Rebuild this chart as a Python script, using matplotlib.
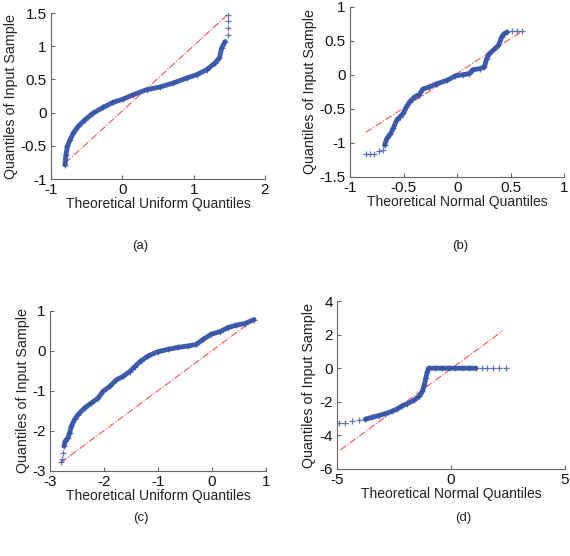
import matplotlib
matplotlib.use("Agg")
import matplotlib.pyplot as plt
from matplotlib.ticker import FormatStrFormatter
import numpy as np

plt.rcParams["font.family"] = ["Liberation Sans", "DejaVu Sans"]
plt.rcParams["axes.unicode_minus"] = False

# (a) uniform q-q plot
a_x = [-0.804, -0.79, -0.77, -0.734, -0.687, -0.617, -0.523, -0.407, -0.267, -0.127,
       0.013, 0.154, 0.34, 0.528, 0.715, 0.902, 1.042, 1.183, 1.30, 1.36,
       1.393, 1.44, 1.486, 1.486, 1.486, 1.486]
a_y = [-0.785, -0.634, -0.507, -0.41, -0.307, -0.206, -0.107, -0.006, 0.08, 0.155,
       0.205, 0.27, 0.345, 0.386, 0.446, 0.521, 0.571, 0.646, 0.747, 0.822,
       0.973, 1.07, 1.17, 1.274, 1.375, 1.475]
a_ref = ([-0.80, 1.486], [-0.76, 1.485])

# (b) normal q-q plot
b_x = [-0.852, -0.815, -0.776, -0.731, -0.695, -0.676, -0.655, -0.625, -0.594, -0.564,
       -0.534, -0.503, -0.473, -0.443, -0.397, -0.352, -0.322, -0.261, -0.185, -0.094,
       -0.018, 0.057, 0.112, 0.148, 0.209, 0.254, 0.275, 0.30, 0.345, 0.385,
       0.415, 0.436, 0.466, 0.512, 0.557, 0.603]
b_y = [-1.167, -1.167, -1.167, -1.113, -1.10, -1.03, -0.932, -0.874, -0.776, -0.664,
       -0.615, -0.566, -0.469, -0.395, -0.322, -0.288, -0.21, -0.176, -0.127, -0.078,
       -0.015, 0.005, 0.02, 0.078, 0.092, 0.117, 0.239, 0.312, 0.376, 0.434,
       0.556, 0.605, 0.63, 0.64, 0.64, 0.64]
b_ref = ([-0.852, 0.603], [-0.845, 0.64])

# (c) uniform q-q plot
c_x = [-2.80, -2.777, -2.759, -2.74, -2.715, -2.667, -2.635, -2.604, -2.543, -2.48,
       -2.357, -2.233, -2.11, -2.019, -1.894, -1.77, -1.648, -1.524, -1.43, -1.31,
       -1.185, -1.0, -0.815, -0.63, -0.444, -0.289, -0.167, -0.011, 0.143, 0.296,
       0.452, 0.606, 0.778]
c_y = [-2.77, -2.705, -2.54, -2.375, -2.25, -2.17, -2.04, -1.88, -1.71, -1.59,
       -1.42, -1.30, -1.18, -1.01, -0.886, -0.72, -0.638, -0.514, -0.39, -0.24,
       -0.125, -0.017, 0.04, 0.09, 0.124, 0.165, 0.288, 0.42, 0.48, 0.586,
       0.645, 0.686, 0.784]
c_ref = ([-2.80, 0.778], [-2.79, 0.784])

# (d) normal q-q plot
d_x = [-4.92, -4.63, -4.34, -4.04, -3.75, -3.45, -3.16, -2.87, -2.57, -2.35,
       -2.13, -1.91, -1.62, -1.39, -1.25, -1.16, -1.10, -1.04, -0.98, -0.7,
       -0.4, -0.1, 0.2, 0.5, 0.8, 1.1, 1.35, 1.6, 1.85, 2.1, 2.43]
d_y = [-3.29, -3.25, -3.17, -3.09, -3.04, -2.92, -2.82, -2.70, -2.56, -2.42,
       -2.23, -2.11, -1.91, -1.67, -1.38, -0.98, -0.59, -0.25, 0.0, 0.0,
       0.0, 0.0, 0.0, 0.0, 0.0, 0.0, 0.0, 0.0, 0.0, 0.0, 0.0]
d_ref = ([-4.85, 2.28], [-4.87, 2.23])

blue = "#3553a8"
panels = [
    # data, ref, body slice, xlim, xticks, ylim, yticks, xlabel, rect, tag, tag pos
    (a_x, a_y, a_ref, (0, 22), (-1, 2), [-1, 0, 1, 2], (-1, 1.5), np.arange(-1, 1.51, 0.5),
     "Theoretical Uniform Quantiles", [0.0895, 0.678, 0.3754, 0.2986], "(a)", (0.2456, 0.557)),
    (b_x, b_y, b_ref, (5, 33), (-1, 1), np.arange(-1, 1.01, 0.5), (-1.5, 1), np.arange(-1.5, 1.01, 0.5),
     "Theoretical Normal Quantiles", [0.614, 0.6817, 0.376, 0.3058], "(b)", (0.807, 0.557)),
    (c_x, c_y, c_ref, (3, 33), (-3, 1), [-3, -2, -1, 0, 1], (-3, 1), [-3, -2, -1, 0, 1],
     "Theoretical Uniform Quantiles", [0.0877, 0.1529, 0.379, 0.2878], "(c)", (0.247, 0.068)),
    (d_x, d_y, d_ref, (4, 26), (-5, 5), [-5, 0, 5], (-6, 4), [-6, -4, -2, 0, 2, 4],
     "Theoretical Normal Quantiles", [0.591, 0.1565, 0.40, 0.302], "(d)", (0.812, 0.068)),
]

fig = plt.figure(figsize=(5.7, 5.56), dpi=100)

for qx, qy, ref, body, xl, xt, yl, yt, xlab, rect, tag, tpos in panels:
    ax = fig.add_axes(rect)
    ax.plot(ref[0], ref[1], color="#ff5050", lw=0.8, ls="-.")
    s0, s1 = body
    ax.plot(qx[s0:s1], qy[s0:s1], color=blue, lw=3.5, alpha=0.95, solid_capstyle="round")
    ax.plot(qx, qy, ls="none", marker="+", ms=5, mew=0.9, color=blue, alpha=0.8)
    ax.set_xlim(xl)
    ax.set_ylim(yl)
    ax.set_xticks(xt)
    ax.set_yticks(yt)
    ax.xaxis.set_major_formatter(FormatStrFormatter("%g"))
    ax.yaxis.set_major_formatter(FormatStrFormatter("%g"))
    for side in ["top", "right"]:
        ax.spines[side].set_visible(False)
    for side in ["left", "bottom"]:
        ax.spines[side].set_color("#666666")
        ax.spines[side].set_linewidth(0.8)
    ax.tick_params(direction="in", length=3, width=0.8, color="#666666",
                   labelsize=11, pad=3, labelcolor="#111111")
    ax.set_xlabel(xlab, fontsize=10, labelpad=0, color="#222222")
    ax.set_ylabel("Quantiles of Input Sample", fontsize=10.3, labelpad=2, color="#222222")
    fig.text(tpos[0], tpos[1], tag, fontsize=9.5, ha="center", va="center", color="#222222")

fig.savefig("out.png", dpi=100)
